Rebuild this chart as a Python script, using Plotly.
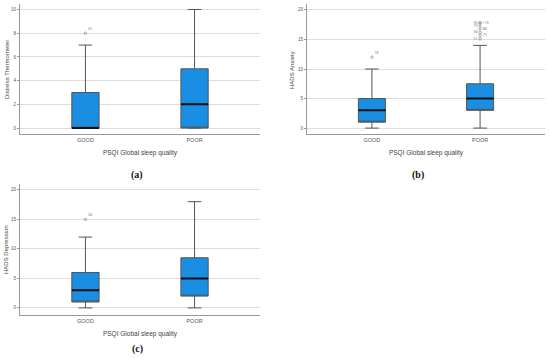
import plotly.graph_objects as go

categories = ["GOOD", "POOR"]

# (a) Distress Thermometer
a_low = [0, 0]
a_q1 = [0, 0]
a_med = [0, 2]
a_q3 = [3, 5]
a_high = [7, 10]
a_out_x = ["GOOD"]
a_out_y = [8]
a_out_lbl = ["55"]

# (b) HADS Anxiety
b_low = [0, 0]
b_q1 = [1, 3]
b_med = [3, 5]
b_q3 = [5, 7.5]
b_high = [10, 14]
b_out_x = ["GOOD", "POOR", "POOR", "POOR", "POOR", "POOR", "POOR", "POOR"]
b_out_y = [12, 15.1, 15.7, 16.2, 16.8, 17.3, 17.8, 17.8]
b_out_lbl = ["78", "51", "73", "58", "88", "79", "96", "116"]
b_out_pos = ["top right", "middle left", "middle right", "middle left",
             "middle right", "middle left", "middle left", "middle right"]

# (c) HADS Depression
c_low = [0, 0]
c_q1 = [1, 2]
c_med = [3, 5]
c_q3 = [6, 8.5]
c_high = [12, 18]
c_out_x = ["GOOD"]
c_out_y = [15]
c_out_lbl = ["28"]

a_ticks = [0, 2, 4, 6, 8, 10]
bc_ticks = [0, 5, 10, 15, 20]

BLUE = "#1a8ee2"
GREY = "#555555"

fig = go.Figure()

panels = [
    ("x", "y", a_low, a_q1, a_med, a_q3, a_high, a_out_x, a_out_y, a_out_lbl, ["top right"]),
    ("x2", "y2", b_low, b_q1, b_med, b_q3, b_high, b_out_x, b_out_y, b_out_lbl, b_out_pos),
    ("x3", "y3", c_low, c_q1, c_med, c_q3, c_high, c_out_x, c_out_y, c_out_lbl, ["top right"]),
]

for xa, ya, lo, q1, med, q3, hi, ox, oy, ol, pos in panels:
    fig.add_trace(go.Box(
        x=categories, q1=q1, median=q1, q3=q3, lowerfence=lo, upperfence=hi,
        fillcolor=BLUE, line=dict(color=GREY, width=1), width=0.25,
        whiskerwidth=0.5, boxpoints=False, xaxis=xa, yaxis=ya,
        showlegend=False, hoverinfo="skip"))
    # median overlay (degenerate box at median)
    fig.add_trace(go.Box(
        x=categories, q1=med, median=med, q3=med, lowerfence=med, upperfence=med,
        fillcolor="rgba(0,0,0,0)", line=dict(color="#111111", width=2), width=0.25,
        showwhiskers=False, boxpoints=False, xaxis=xa, yaxis=ya,
        showlegend=False, hoverinfo="skip"))
    fig.add_trace(go.Scatter(
        x=ox, y=oy, mode="markers+text", text=ol, textposition=pos,
        textfont=dict(size=3.5, color="#777777"),
        marker=dict(symbol="circle-open", size=2.5, color="#888888", line=dict(width=0.7)),
        xaxis=xa, yaxis=ya, showlegend=False, hoverinfo="skip", cliponaxis=False))

axis_common = dict(showline=True, linecolor="#999999", linewidth=1, ticks="outside",
                   ticklen=2, tickcolor="#999999", zeroline=False, automargin=False,
                   tickfont=dict(size=4.5, color="#555555", family="Liberation Sans"))

def xaxis(domain, anchor):
    return dict(domain=domain, anchor=anchor, type="category", range=[-0.6, 1.6],
                showgrid=False, title=dict(text="PSQI Global sleep quality", standoff=8,
                                           font=dict(size=6.5, color="#444444", family="Liberation Sans")),
                **{**axis_common, "tickfont": dict(size=5.5, color="#555555", family="Liberation Sans"), "ticks": ""})

def yaxis(domain, anchor, rng, ticks):
    return dict(domain=domain, anchor=anchor, range=rng, tickvals=ticks,
                showgrid=True, gridcolor="#dddddd", gridwidth=1, **axis_common)

fig.update_layout(
    width=550, height=358, margin=dict(l=0, r=0, t=0, b=0),
    paper_bgcolor="white", plot_bgcolor="white",
    xaxis=xaxis([20/550, 260/550], "y"),
    yaxis=yaxis([1-134/358, 1-3.6/358], "x", [-0.5, 10.5], a_ticks),
    xaxis2=xaxis([307/550, 545/550], "y2"),
    yaxis2=yaxis([1-134/358, 1-4/358], "x2", [-1, 21], bc_ticks),
    xaxis3=xaxis([20/550, 260/550], "y3"),
    yaxis3=yaxis([1-315/358, 1-184/358], "x3", [-1.2, 21], bc_ticks),
    boxmode="overlay",
)

# y-axis titles
for txt, x, y in [("Distress Thermometer", 7/550, 1-70/358),
                  ("HADS Anxiety", 292/550, 1-70/358),
                  ("HADS Depression", 6/550, 1-250/358)]:
    fig.add_annotation(text=txt, x=x, y=y, xanchor="center", yanchor="middle",
                       textangle=-90, xref="paper", yref="paper", showarrow=False,
                       font=dict(size=6, color="#444444", family="Liberation Sans"))

for txt, x, y in [("(a)", 137/550, 1-175/358), ("(b)", 418/550, 1-175/358), ("(c)", 137/550, 1-349/358)]:
    fig.add_annotation(text="<b>" + txt + "</b>", x=x, y=y, xanchor="center", yanchor="middle",
                       xref="paper", yref="paper", showarrow=False,
                       font=dict(size=10, color="#111111", family="Liberation Serif"))

fig.write_html("out.html", config={"displayModeBar": False},
               post_script="document.body.style.margin='0px';")
